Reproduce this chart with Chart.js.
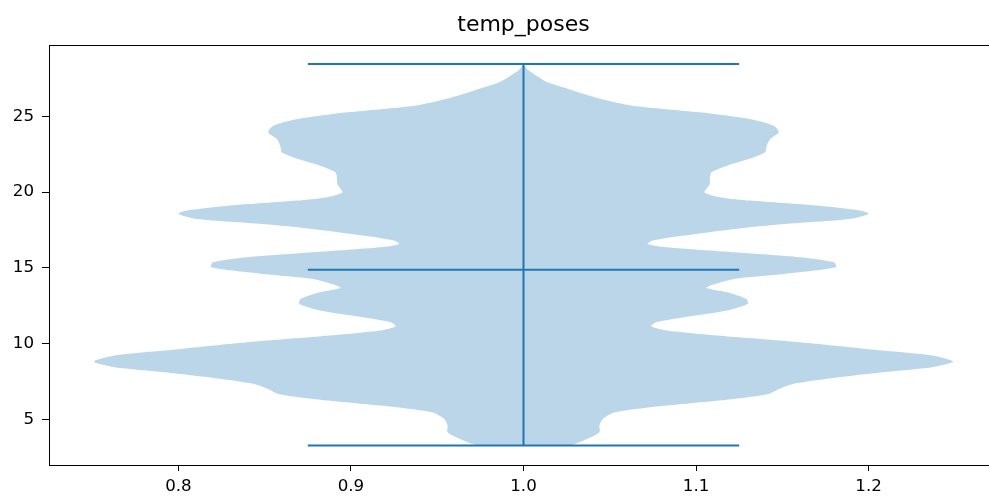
<!DOCTYPE html>
<html>
<head>
<meta charset="utf-8">
<script src="https://cdn.jsdelivr.net/npm/chart.js@4/dist/chart.umd.min.js"></script>
<style>
  html, body { margin: 0; padding: 0; background: #fff; }
  #wrap { width: 989px; height: 498px; overflow: hidden; }
  canvas { display: block; }
</style>
</head>
<body>
<div id="wrap"><canvas id="myChart" width="998" height="498"></canvas></div>
<script>
// violin outline: y values (bottom -> top) and half width of the violin at each y
const violinY = [3.29, 3.40, 3.73, 4.16, 4.60, 5.05, 5.48, 5.92, 6.36, 6.69, 7.02, 7.35, 7.68,
  8.12, 8.45, 8.82, 9.22, 9.55, 10.10, 10.54, 10.87, 11.15, 11.41, 11.74, 12.19, 12.63,
  12.96, 13.39, 13.68, 13.83, 14.27, 14.60, 15.04, 15.37, 15.70, 16.03, 16.36, 16.58,
  16.80, 17.13, 17.57, 17.90, 18.23, 18.56, 18.78, 19.11, 19.44, 19.65, 19.98, 20.54,
  20.87, 21.30, 21.74, 22.19, 22.62, 23.06, 23.50, 23.94, 24.38, 24.82, 25.26, 25.70,
  26.14, 26.47, 26.80, 27.24, 27.68, 28.01, 28.45];
const violinHalfWidth = [0.026, 0.030, 0.037, 0.044, 0.044, 0.046, 0.053, 0.083, 0.122, 0.142,
  0.148, 0.156, 0.175, 0.208, 0.237, 0.249, 0.237, 0.208, 0.160, 0.112, 0.083, 0.074,
  0.077, 0.093, 0.118, 0.130, 0.129, 0.118, 0.106, 0.108, 0.122, 0.151, 0.181, 0.180,
  0.160, 0.122, 0.083, 0.072, 0.075, 0.093, 0.122, 0.151, 0.189, 0.200, 0.195, 0.170,
  0.131, 0.115, 0.105, 0.108, 0.108, 0.109, 0.118, 0.131, 0.140, 0.141, 0.143, 0.148,
  0.145, 0.131, 0.102, 0.063, 0.045, 0.035, 0.026, 0.014, 0.0075, 0.003, 0];

const center = 1.0;
const yMin = 3.29, yMax = 28.45, yMedian = 14.88;
const capHalf = 0.125;

const xTicks = [0.8, 0.9, 1.0, 1.1, 1.2];
const xTickLabels = ['0.8', '0.9', '1.0', '1.1', '1.2'];
const yTicks = [5, 10, 15, 20, 25];
const yTickLabels = ['5', '10', '15', '20', '25'];

const blue = '#1f77b4';

// closed outline: left side going up, right side coming down
let outline = [];
for (let i = 0; i < violinY.length; i++) {
  outline.push({x: center - violinHalfWidth[i], y: violinY[i]});
}
for (let i = violinY.length - 1; i >= 0; i--) {
  outline.push({x: center + violinHalfWidth[i], y: violinY[i]});
}

function seg(data) {
  return {data: data, borderColor: blue, borderWidth: 2, pointRadius: 0, showLine: true, fill: false, order: 0};
}

Chart.defaults.font.family = 'DejaVu Sans';
Chart.defaults.font.size = 16.7;
Chart.defaults.color = '#000';

new Chart('myChart', {
  type: 'scatter',
  data: {
    datasets: [
      seg([{x: center - capHalf, y: yMin}, {x: center + capHalf, y: yMin}]),
      seg([{x: center - capHalf, y: yMax}, {x: center + capHalf, y: yMax}]),
      seg([{x: center - capHalf, y: yMedian}, {x: center + capHalf, y: yMedian}]),
      seg([{x: center, y: yMin}, {x: center, y: yMax}]),
      {
        data: outline,
        showLine: true,
        fill: 'shape',
        backgroundColor: 'rgba(31,119,180,0.3)',
        borderWidth: 0,
        borderColor: 'rgba(0,0,0,0)',
        pointRadius: 0,
        tension: 0.25,
        order: 1
      }
    ]
  },
  options: {
    responsive: false,
    animation: false,
    layout: {padding: 0},
    plugins: {
      legend: {display: false},
      tooltip: {enabled: false},
      title: {
        display: true,
        text: 'temp_poses',
        fullSize: false,
        color: '#000',
        font: {size: 22, weight: 'normal'},
        padding: {top: 12, bottom: 6.6}
      }
    },
    scales: {
      x: {
        type: 'linear',
        position: 'bottom',
        min: 0.725,
        max: 1.275,
        afterBuildTicks: s => { s.ticks = xTicks.map(v => ({value: v})); },
        afterFit: s => { s.height = 33; },
        ticks: {padding: 6, callback: (v, i) => xTickLabels[i]},
        grid: {drawOnChartArea: false, drawTicks: true, tickLength: 6, color: '#000'},
        border: {display: true, color: '#000', width: 1}
      },
      x2: {
        type: 'linear',
        position: 'top',
        min: 0.725,
        max: 1.275,
        afterFit: s => { s.height = 0; },
        ticks: {display: false},
        grid: {display: false, drawTicks: false},
        border: {display: true, color: '#000', width: 1}
      },
      y: {
        type: 'linear',
        position: 'left',
        min: 2.0,
        max: 29.7,
        afterBuildTicks: s => { s.ticks = yTicks.map(v => ({value: v})); },
        afterFit: s => { s.width = 49; },
        ticks: {padding: 8, callback: (v, i) => yTickLabels[i]},
        grid: {drawOnChartArea: false, drawTicks: true, tickLength: 7, color: '#000'},
        border: {display: true, color: '#000', width: 1}
      }
    }
  }
});
</script>
</body>
</html>
